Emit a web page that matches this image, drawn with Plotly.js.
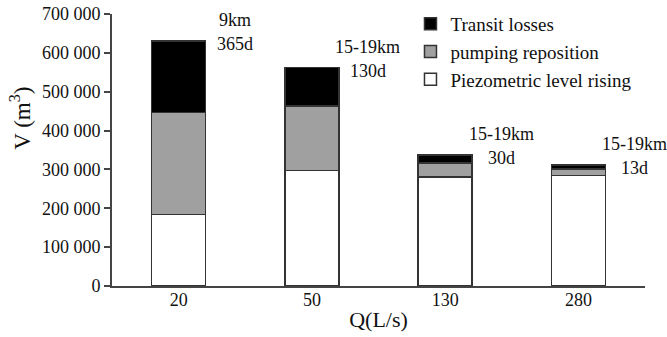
<!DOCTYPE html>
<html>
<head>
<meta charset="utf-8">
<script src="https://cdn.plot.ly/plotly-3.0.1.min.js"></script>
<style>html,body{margin:0;padding:0;background:#fff;}#chart{width:667px;height:337px;}</style>
</head>
<body>
<div id="chart"></div>
<script>
var categories = ["20", "50", "130", "280"];
var piezometric = [184000, 297000, 281000, 285000];
var pumping = [263000, 166000, 36000, 16000];
var transit = [183000, 99000, 20000, 10000];
var distanceLabels = ["9km", "15-19km", "15-19km", "15-19km"];
var durationLabels = ["365d", "130d", "30d", "13d"];
var yTickVals = [0, 100000, 200000, 300000, 400000, 500000, 600000, 700000];
var yTickText = ["0", "100 000", "200 000", "300 000", "400 000", "500 000", "600 000", "700 000"];
var yTitle = "V (m<sup>3</sup>)";
var xTitle = "Q(L/s)";

var FONT = "Liberation Serif, Times New Roman, Times, serif";
var lineStyle = {color: "#333", width: 1.5};

var traces = [
  {type: "bar", name: "Piezometric level rising", x: categories, y: piezometric,
   marker: {color: "#ffffff", line: lineStyle}},
  {type: "bar", name: "pumping reposition", x: categories, y: pumping,
   marker: {color: "#a0a0a0", line: lineStyle}},
  {type: "bar", name: "Transit losses", x: categories, y: transit,
   marker: {color: "#000000", line: lineStyle}}
];

var annotations = [];
categories.forEach(function (c, i) {
  var total = piezometric[i] + pumping[i] + transit[i];
  annotations.push({x: i, y: total, xref: "x", yref: "y", text: distanceLabels[i],
    showarrow: false, xanchor: "center", yanchor: "middle", xshift: 56, yshift: 21,
    font: {family: FONT, size: 18, color: "#111"}});
  annotations.push({x: i, y: total, xref: "x", yref: "y", text: durationLabels[i],
    showarrow: false, xanchor: "center", yanchor: "middle", xshift: 56, yshift: -3,
    font: {family: FONT, size: 18, color: "#111"}});
});
annotations.push({x: -0.171, y: 0.618, xref: "paper", yref: "paper", text: yTitle,
  textangle: -90, showarrow: false, xanchor: "center", yanchor: "middle",
  font: {family: FONT, size: 23, color: "#111"}});

var layout = {
  width: 667, height: 337,
  margin: {l: 112, r: 22, t: 14, b: 51, autoexpand: false},
  paper_bgcolor: "#fff", plot_bgcolor: "#fff",
  barmode: "stack", bargap: 0.595,
  font: {family: FONT, size: 18, color: "#111"},
  showlegend: true,
  legend: {x: 0.56, xanchor: "left", y: 1.033, yanchor: "top",
    font: {family: FONT, size: 19, color: "#111"}, bgcolor: "rgba(0,0,0,0)",
    tracegroupgap: 0, itemwidth: 30},
  xaxis: {type: "category", range: [-0.5, 3.5], showline: true, linecolor: "#444", linewidth: 2,
    ticks: "", showgrid: false, zeroline: false, ticklabelstandoff: -4,
    tickfont: {family: FONT, size: 18, color: "#111"},
    title: {text: xTitle, font: {family: FONT, size: 22, color: "#111"}, standoff: 3}},
  yaxis: {range: [0, 700000], showline: true, linecolor: "#444", linewidth: 2,
    ticks: "outside", ticklen: 6, tickwidth: 2, tickcolor: "#444",
    tickvals: yTickVals, ticktext: yTickText, showgrid: false, zeroline: false,
    tickfont: {family: FONT, size: 18, color: "#111"}},
  annotations: annotations
};

Plotly.newPlot("chart", traces, layout, {displayModeBar: false, staticPlot: true});
</script>
</body>
</html>
